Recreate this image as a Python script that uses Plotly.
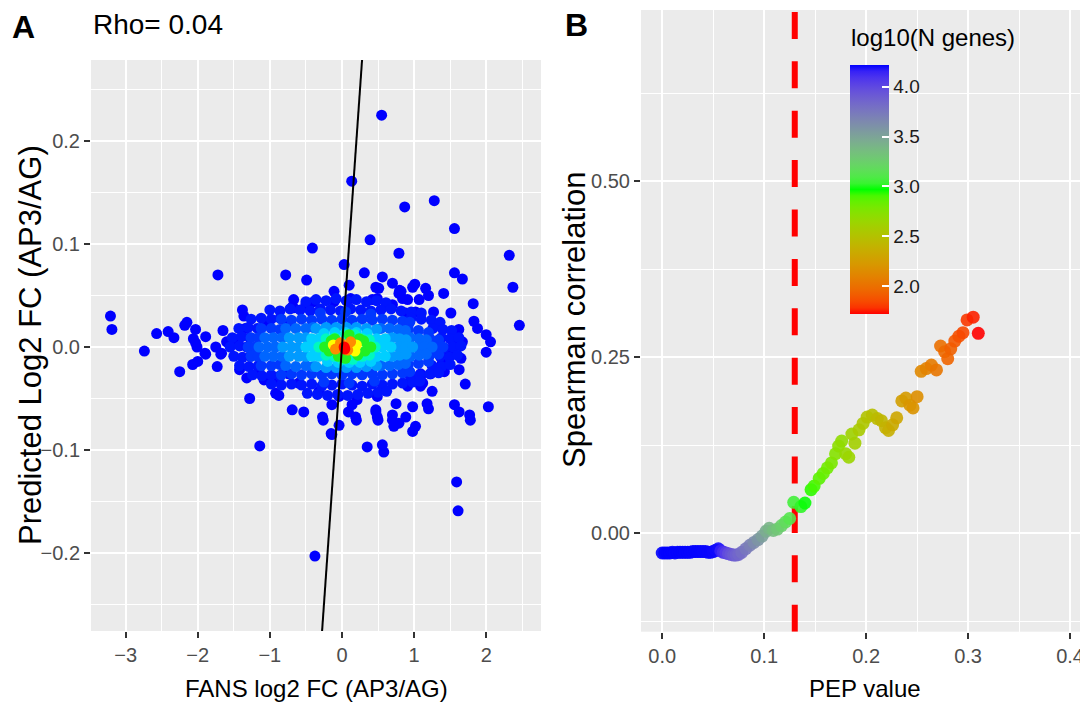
import numpy as np
import plotly.graph_objects as go

# ---------------- Panel A data ----------------
# sparse points (lowest density)
a0_x = [-3.21,-3.19,-2.74,-2.57,-2.41,-2.33,-2.25,-2.18,-2.15,-2.03,-2.06,-2.07,-1.89,-2.01,-1.89,-1.73,-1.72,-1.75,-1.68,-1.65,
        -1.50,-1.38,-1.36,-1.34,-1.28,-1.14,-1.07,-0.92,-0.875,-0.78,-0.76,-0.69,-0.53,-0.67,-0.69,-0.49,-0.41,-0.32,-0.27,-0.15,
        -0.04,-0.11,-0.11,0.03,0.10,0.12,0.31,0.39,0.35,0.56,0.58,0.56,0.51,0.42,0.70,0.79,0.82,0.91,1.01,1.07,
        1.16,1.20,1.27,1.41,1.51,1.56,1.67,1.56,1.82,1.83,1.88,1.62,2.00,2.06,2.00,2.32,2.37,2.46,1.65,1.625,
        1.71,1.25,1.18,1.20,1.56,1.625,1.77,2.03,0.98,1.02,0.98,0.72,0.70,0.75,1.09,1.12,0.95,0.49,0.47,0.49,
        0.19,0.21,0.09,-0.04,-0.14,-0.375,-0.14,1.59,1.61,-0.26,0.20,0.50,1.78,0.55,0.135,0.87,1.28,0.80,-2.03,-2.00,
        -1.90,-1.67,-1.60,-1.42,-1.32,-1.46,1.67,1.39,1.49,1.42,1.32,1.23,1.58,0.79,0.91,1.09,1.09,0.79,-0.67,-0.50,
        -0.39,0.47,0.49,0.70,0.84,0.98,0.885,1.02,0.14,0.47,0.70,0.885,-1.15,-1.08,-0.875,-0.60,-0.74]
a0_y = [0.030,0.017,-0.004,0.013,0.015,0.009,-0.024,0.021,0.024,0.017,0.008,-0.017,0.010,0.000,-0.007,-0.019,0.070,0.000,-0.007,0.016,
        0.007,0.036,0.030,0.018,-0.050,-0.096,0.022,-0.045,-0.047,0.070,0.021,-0.061,-0.063,0.046,0.039,0.065,0.096,-0.043,-0.068,-0.084,
        -0.076,0.054,0.044,0.080,0.060,0.047,0.072,0.104,-0.097,-0.095,-0.102,0.068,0.057,0.046,0.062,0.091,0.054,0.046,0.061,0.046,
        0.057,0.050,0.034,0.052,0.033,0.072,0.066,0.115,0.042,0.025,0.018,0.017,0.012,0.005,-0.005,0.089,0.058,0.021,-0.011,-0.022,
        -0.036,-0.043,-0.055,-0.060,-0.056,-0.063,-0.066,-0.058,-0.058,-0.077,-0.082,-0.077,-0.066,-0.055,-0.029,-0.035,-0.029,-0.048,-0.061,-0.068,
        -0.068,-0.051,-0.063,-0.048,-0.056,-0.203,-0.085,-0.131,-0.159,-0.071,-0.071,-0.071,-0.071,0.225,0.161,0.136,0.142,0.055,0.004,-0.014,
        -0.006,-0.006,0.005,-0.022,-0.030,0.007,0.005,-0.016,-0.008,-0.024,-0.024,-0.026,0.002,-0.074,-0.038,-0.038,-0.026,0.052,0.038,0.041,
        0.044,0.058,0.047,0.041,0.047,0.058,0.033,0.034,-0.056,-0.063,-0.071,-0.068,-0.022,-0.032,-0.032,-0.035,-0.026]

# dense blue cloud (outer ring of the core)
a1_x = [-0.50,-0.36,-0.22,-0.08,0.06,0.20,0.34,0.48,0.61,
        -1.00,-0.86,-0.72,-0.58,-0.44,-0.30,-0.16,-0.02,0.12,0.26,0.40,0.54,0.68,0.82,0.96,1.10,
        -1.26,-1.12,-0.98,-0.86,0.96,1.10,1.24,1.36,
        -1.43,-1.30,-1.17,1.26,1.40,1.52,
        -1.52,-1.39,-1.28,1.38,1.50,1.62,
        -1.55,-1.42,-1.32,1.42,1.54,1.65,
        -1.50,-1.38,-1.27,1.36,1.49,1.60,
        -1.42,-1.29,-1.16,1.25,1.38,1.50,
        -1.24,-1.11,-0.98,-0.86,0.95,1.08,1.22,1.34,
        -0.98,-0.84,-0.70,-0.56,-0.42,-0.28,-0.14,0.00,0.14,0.28,0.42,0.56,0.70,0.84,0.98,1.08,
        -0.48,-0.34,-0.20,-0.06,0.08,0.22,0.36,0.50,0.62]
a1_y = [0.044,0.046,0.045,0.047,0.045,0.046,0.044,0.045,0.043,
        0.036,0.035,0.037,0.036,0.035,0.037,0.036,0.035,0.037,0.036,0.035,0.036,0.037,0.035,0.034,0.033,
        0.027,0.028,0.027,0.028,0.028,0.027,0.026,0.024,
        0.018,0.019,0.018,0.018,0.017,0.016,
        0.009,0.010,0.009,0.009,0.008,0.009,
        0.000,0.001,0.000,-0.001,0.000,0.001,
        -0.009,-0.010,-0.009,-0.009,-0.010,-0.008,
        -0.018,-0.019,-0.018,-0.018,-0.019,-0.017,
        -0.027,-0.028,-0.027,-0.028,-0.028,-0.027,-0.026,-0.025,
        -0.036,-0.037,-0.036,-0.037,-0.036,-0.038,-0.037,-0.036,-0.037,-0.038,-0.036,-0.037,-0.036,-0.035,-0.034,-0.033,
        -0.045,-0.046,-0.047,-0.046,-0.047,-0.046,-0.045,-0.044,-0.043]

a2_x = [-0.30,0.05,0.40,
        -0.84,-0.70,-0.56,-0.42,-0.28,-0.14,0.00,0.14,0.28,0.42,0.56,0.70,0.84,0.94,
        -1.12,-0.98,-0.86,0.92,1.06,1.20,
        -1.26,-1.16,1.22,1.34,
        -1.30,-1.20,1.30,1.40,
        -1.26,-1.16,1.22,1.34,
        -1.12,-0.98,-0.86,0.92,1.06,1.20,
        -0.84,-0.70,-0.56,-0.42,-0.28,-0.14,0.00,0.14,0.28,0.42,0.56,0.70,0.84,0.94,
        -0.25,0.10,0.45]
a2_y = [0.033,0.034,0.032,
        0.027,0.026,0.027,0.026,0.027,0.026,0.027,0.026,0.027,0.026,0.027,0.026,0.025,0.024,
        0.018,0.018,0.017,0.017,0.016,0.014,
        0.009,0.009,0.008,0.007,
        0.000,0.000,0.000,0.000,
        -0.009,-0.009,-0.008,-0.007,
        -0.018,-0.018,-0.017,-0.017,-0.016,-0.014,
        -0.027,-0.026,-0.027,-0.026,-0.027,-0.026,-0.027,-0.026,-0.027,-0.026,-0.027,-0.026,-0.025,-0.024,
        -0.034,-0.035,-0.033]

a3_x = [-0.78,-0.64,-0.50,-0.40,0.54,0.66,0.78,0.88,
        -1.07,-0.95,-0.83,0.95,1.07,1.17,
        -1.15,-1.03,-0.92,1.05,1.15,1.25,
        -1.07,-0.95,-0.83,0.95,1.07,1.17,
        -0.78,-0.64,-0.50,-0.40,0.54,0.66,0.78,0.88]
a3_y = [0.018,0.018,0.018,0.019,0.018,0.018,0.017,0.016,
        0.009,0.009,0.009,0.009,0.008,0.007,
        0.000,0.000,0.000,0.000,0.000,0.000,
        -0.009,-0.009,-0.009,-0.009,-0.008,-0.007,
        -0.018,-0.019,-0.018,-0.019,-0.018,-0.018,-0.017,-0.016]

a4_x = [-0.36,-0.22,-0.08,0.06,0.20,0.34,0.48,
        -0.73,-0.60,-0.50,0.70,0.80,0.89,
        -0.82,-0.70,-0.60,0.78,0.88,0.98,
        -0.73,-0.60,-0.50,0.70,0.80,0.89,
        -0.36,-0.22,-0.08,0.06,0.20,0.34,0.48]
a4_y = [0.018,0.019,0.019,0.019,0.019,0.018,0.017,
        0.009,0.009,0.009,0.009,0.008,0.007,
        0.000,0.000,0.000,0.000,0.000,0.000,
        -0.009,-0.009,-0.009,-0.009,-0.008,-0.007,
        -0.019,-0.020,-0.020,-0.020,-0.020,-0.019,-0.018]

a5_x = [-0.25,-0.10,0.05,0.20,0.35,
        -0.42,-0.32,0.48,0.60,
        -0.50,-0.40,0.56,0.68,
        -0.42,-0.32,0.48,0.60,
        -0.20,-0.05,0.10,0.25,0.40]
a5_y = [0.013,0.014,0.014,0.014,0.013,
        0.008,0.008,0.008,0.008,
        0.000,0.000,0.000,0.000,
        -0.009,-0.009,-0.009,-0.009,
        -0.014,-0.015,-0.015,-0.015,-0.014]

a6_x = [-0.22,-0.10,0.28,0.38,-0.32,-0.22,0.38,0.46,-0.22,-0.10,0.28,0.38,0.05,0.18,0.00,0.15]
a6_y = [0.008,0.009,0.008,0.007,0.000,0.000,0.000,0.000,-0.008,-0.009,-0.009,-0.008,0.012,0.012,-0.012,-0.012]

a7_x = [-0.15,-0.18,0.30,0.32,0.05,0.22,0.10,-0.10,0.40,-0.24,0.24,-0.05]
a7_y = [0.006,-0.004,0.006,-0.004,-0.011,-0.008,0.012,0.008,0.000,0.000,0.008,-0.009]

a8_x = [0.20,0.18,-0.12]
a8_y = [0.002,-0.004,0.002]

a9_x = [-0.09,0.12,-0.02,0.08]
a9_y = [-0.002,0.005,0.004,-0.003]

a10_x = [0.03,0.04]
a10_y = [0.000,-0.002]

a_groups = [(a0_x, a0_y), (a1_x, a1_y), (a2_x, a2_y), (a3_x, a3_y), (a4_x, a4_y), (a5_x, a5_y),
            (a6_x, a6_y), (a7_x, a7_y), (a8_x, a8_y), (a9_x, a9_y), (a10_x, a10_y)]
a_density = [0.0, 0.06, 0.15, 0.24, 0.32, 0.40, 0.50, 0.62, 0.76, 0.87, 1.0]

line_slope = 1.0
line_intercept = 0.0
rho_text = "Rho= 0.04"

# ---------------- Panel B data ----------------
pep = [0.000,0.0025,0.005,0.0075,0.010,0.0125,0.015,0.0175,0.020,0.0225,0.025,0.0275,0.030,0.0325,0.035,0.0375,0.040,0.0425,0.045,0.0475,
       0.050,0.0525,0.055,0.0575,0.060,0.0625,0.065,0.0675,0.070,0.0725,0.075,
       0.078,0.082,0.086,0.090,0.094,0.098,0.102,0.105,0.109,0.113,0.117,0.121,0.125,0.129,0.136,0.140,0.146,0.149,0.154,0.158,
       0.162,0.166,0.170,0.173,0.176,0.180,0.183,0.186,0.189,0.193,0.197,0.201,0.206,0.211,0.215,0.219,0.222,0.226,0.230,0.235,
       0.239,0.243,0.246,0.250,0.254,0.259,0.264,0.269,0.273,0.277,0.280,0.283,0.287,0.291,0.295,0.299,0.305,0.310]
spearman = [-0.028,-0.028,-0.028,-0.028,-0.027,-0.028,-0.027,-0.027,-0.027,-0.027,-0.027,-0.027,-0.026,-0.026,-0.026,-0.026,-0.026,-0.026,-0.027,-0.027,
            -0.026,-0.024,-0.022,-0.025,-0.027,-0.028,-0.029,-0.030,-0.031,-0.031,-0.030,
            -0.027,-0.022,-0.017,-0.013,-0.009,-0.004,0.003,0.007,0.004,0.006,0.011,0.016,0.021,0.044,0.038,0.043,0.062,0.067,0.078,0.085,
            0.093,0.100,0.113,0.124,0.131,0.113,0.108,0.141,0.128,0.147,0.156,0.165,0.168,0.163,0.160,0.150,0.146,0.154,0.164,0.188,
            0.192,0.182,0.178,0.194,0.230,0.234,0.239,0.232,0.266,0.258,0.248,0.262,0.273,0.280,0.285,0.303,0.307,0.284]
log10_n = [4.217,4.216,4.216,4.215,4.215,4.214,4.214,4.213,4.213,4.212,4.212,4.211,4.211,4.210,4.210,4.209,4.208,4.207,4.206,4.205,
           4.203,4.200,4.195,4.15,4.10,4.04,3.98,3.94,3.90,3.87,3.84,
           3.80,3.75,3.70,3.64,3.58,3.52,3.45,3.40,3.35,3.30,3.24,3.18,3.12,3.06,3.02,2.98,2.93,2.91,2.87,2.84,
           2.81,2.78,2.74,2.71,2.69,2.66,2.64,2.62,2.60,2.57,2.54,2.51,2.48,2.45,2.42,2.39,2.37,2.34,2.31,2.27,
           2.24,2.21,2.19,2.16,2.13,2.10,2.06,2.03,2.00,1.97,1.95,1.93,1.90,1.87,1.84,1.80,1.76,1.72]
pep_cutoff = 0.13
cb_ticks = [2.0, 2.5, 3.0, 3.5, 4.0]

# ---------------- colour helpers (Lab interpolation like ggplot) ----------------
def _to_lab(rgb):
    c = np.array(rgb, float) / 255.0
    c = np.where(c > 0.04045, ((c + 0.055) / 1.055) ** 2.4, c / 12.92)
    M = np.array([[0.4124564, 0.3575761, 0.1804375], [0.2126729, 0.7151522, 0.0721750], [0.0193339, 0.1191920, 0.9503041]])
    X, Y, Z = M @ c
    X /= 0.95047; Z /= 1.08883
    d = 6 / 29
    f = lambda t: t ** (1 / 3) if t > d ** 3 else t / (3 * d * d) + 4 / 29
    fx, fy, fz = f(X), f(Y), f(Z)
    return np.array([116 * fy - 16, 500 * (fx - fy), 200 * (fy - fz)])

def _from_lab(lab):
    L, a, b = lab
    d = 6 / 29
    fy = (L + 16) / 116; fx = fy + a / 500; fz = fy - b / 200
    finv = lambda t: t ** 3 if t > d else 3 * d * d * (t - 4 / 29)
    XYZ = np.array([0.95047 * finv(fx), finv(fy), 1.08883 * finv(fz)])
    Minv = np.array([[3.2404542, -1.5371385, -0.4985314], [-0.9692660, 1.8760108, 0.0415560], [0.0556434, -0.2040259, 1.0572252]])
    c = Minv @ XYZ
    c = np.where(c > 0.0031308, 1.055 * np.clip(c, 0, None) ** (1 / 2.4) - 0.055, 12.92 * c)
    c = np.clip(c, 0, 1) * 255
    return "rgb(%d,%d,%d)" % tuple(np.round(c).astype(int))

def lab_scale(colors, n=41):
    labs = [_to_lab(c) for c in colors]
    seg = len(colors) - 1
    out = []
    for t in np.linspace(0, 1, n):
        i = min(int(t * seg), seg - 1)
        s = t * seg - i
        out.append([float(t), _from_lab(labs[i] * (1 - s) + labs[i + 1] * s)])
    return out

scale_b = lab_scale([(255, 0, 0), (0, 255, 0), (0, 0, 255)])
scale_a = [[0.0, '#0000FF'], [0.12, '#0028FF'], [0.24, '#0066FF'], [0.33, '#00A0FF'], [0.42, '#00DDFF'],
           [0.52, '#00FFB0'], [0.62, '#22F022'], [0.76, '#FFFF00'], [0.87, '#FF8C00'], [1.0, '#FF0000']]

# ---------------- figure ----------------
FONT = "Liberation Sans, Arial, sans-serif"
# the page body has an 8px margin, so the figure is drawn 8px in from the window corner
OFF = 8
W, H = 1088 - OFF, 708 - OFF

def PX(sx):
    return (sx - OFF) / W

def PY(sy):
    return 1 - (sy - OFF) / H

fig = go.Figure()

ax_x_range = [-3.48, 2.76]
ax_y_range = [-0.2757, 0.2786]
bx_range = [-0.0208, 0.4176]
by_range = [-0.1398, 0.7433]

ax_all, ay_all, ad_all = [], [], []
for (gx, gy), d in zip(a_groups, a_density):
    ax_all += gx; ay_all += gy; ad_all += [d] * len(gx)

fig.add_trace(go.Scatter(x=ax_all, y=ay_all, mode="markers", xaxis="x", yaxis="y",
                         marker=dict(size=11, color=ad_all, colorscale=scale_a, cmin=0, cmax=1,
                                     line=dict(width=0)), showlegend=False, hoverinfo="skip"))

ly = np.array(ax_y_range)
lx = (ly - line_intercept) / line_slope
fig.add_trace(go.Scatter(x=lx, y=ly, mode="lines", xaxis="x", yaxis="y",
                         line=dict(color="black", width=2), showlegend=False, hoverinfo="skip"))

fig.add_trace(go.Scatter(x=[pep_cutoff, pep_cutoff], y=by_range, mode="lines", xaxis="x2", yaxis="y2",
                         line=dict(color="#FF0000", width=6, dash="27px,22.4px"), showlegend=False, hoverinfo="skip"))

fig.add_trace(go.Scatter(x=pep, y=spearman, mode="markers", xaxis="x2", yaxis="y2",
                         marker=dict(size=13, color=log10_n, colorscale=scale_b,
                                     cmin=min(log10_n), cmax=max(log10_n), opacity=0.9, line=dict(width=0),
                                     colorbar=dict(x=PX(850), xanchor="left", y=PY(65), yanchor="top",
                                                   len=249, lenmode="pixels", thickness=39,
                                                   xpad=0, ypad=0, outlinewidth=0,
                                                   tickvals=cb_ticks, ticktext=["%.1f" % v for v in cb_ticks],
                                                   ticks="inside", ticklen=7, tickwidth=1.5, tickcolor="white",
                                                   tickfont=dict(family=FONT, size=19, color="#1a1a1a"))),
                         showlegend=False, hoverinfo="skip"))

tickfont = dict(family=FONT, size=20, color="#4D4D4D")
common = dict(showgrid=True, gridcolor="white", gridwidth=2, zeroline=False, showline=False, automargin=False,
              ticks="outside", ticklen=6, tickwidth=2, tickcolor="#333333", tickfont=tickfont)

a_xt = [-3, -2, -1, 0, 1, 2]
a_yt = [-0.2, -0.1, 0.0, 0.1, 0.2]
b_xt = [0.0, 0.1, 0.2, 0.3, 0.4]
b_yt = [0.0, 0.25, 0.5]

def lab_num(v, fmt):
    s = fmt % v
    return s.replace("-", "\u2212")

fig.update_layout(
    width=W, height=H, margin=dict(l=0, r=0, t=0, b=0),
    paper_bgcolor="white", plot_bgcolor="#EBEBEB",
    xaxis=dict(domain=[PX(91), PX(541)], range=ax_x_range, anchor="y",
               tickvals=a_xt, ticktext=[lab_num(v, "%d") for v in a_xt],
               minor=dict(tickvals=[-3.5, -2.5, -1.5, -0.5, 0.5, 1.5, 2.5], showgrid=True, gridcolor="white", gridwidth=1, ticks=""),
               **common),
    yaxis=dict(domain=[PY(631), PY(60)], range=ax_y_range, anchor="x",
               tickvals=a_yt, ticktext=[lab_num(v, "%.1f") for v in a_yt],
               minor=dict(tickvals=[-0.25, -0.15, -0.05, 0.05, 0.15, 0.25], showgrid=True, gridcolor="white", gridwidth=1, ticks=""),
               **common),
    xaxis2=dict(domain=[PX(641), 1.0], range=bx_range, anchor="y2",
                tickvals=b_xt, ticktext=["%.1f" % v for v in b_xt],
                minor=dict(tickvals=[0.05, 0.15, 0.25, 0.35], showgrid=True, gridcolor="white", gridwidth=1, ticks=""),
                **common),
    yaxis2=dict(domain=[PY(631.7), PY(10)], range=by_range, anchor="x2",
                tickvals=b_yt, ticktext=["%.2f" % v for v in b_yt],
                minor=dict(tickvals=[-0.125, 0.125, 0.375, 0.625], showgrid=True, gridcolor="white", gridwidth=1, ticks=""),
                **common),
)

def ann(text, sx, sy, size, xanchor="center", angle=0, bold=False, color="black"):
    fig.add_annotation(text=("<b>%s</b>" % text) if bold else text, x=PX(sx), y=PY(sy), xref="paper", yref="paper",
                       showarrow=False, xanchor=xanchor, yanchor="middle", textangle=angle,
                       font=dict(family=FONT, size=size, color=color))

ann("A", 10, 27, 32, xanchor="left", bold=True)
ann("B", 563, 25, 32, xanchor="left", bold=True)
ann(rho_text, 91, 25, 28, xanchor="left")
ann("Predicted Log2 FC (AP3/AG)", 30, 345, 31, angle=-90)
ann("Spearman correlation", 574, 320, 31, angle=-90)
ann("FANS log2 FC (AP3/AG)", 316, 688, 24)
ann("PEP value", 865, 688, 24)
ann("log10(N genes)", 849, 38, 24, xanchor="left")

fig.write_html("out.html")
